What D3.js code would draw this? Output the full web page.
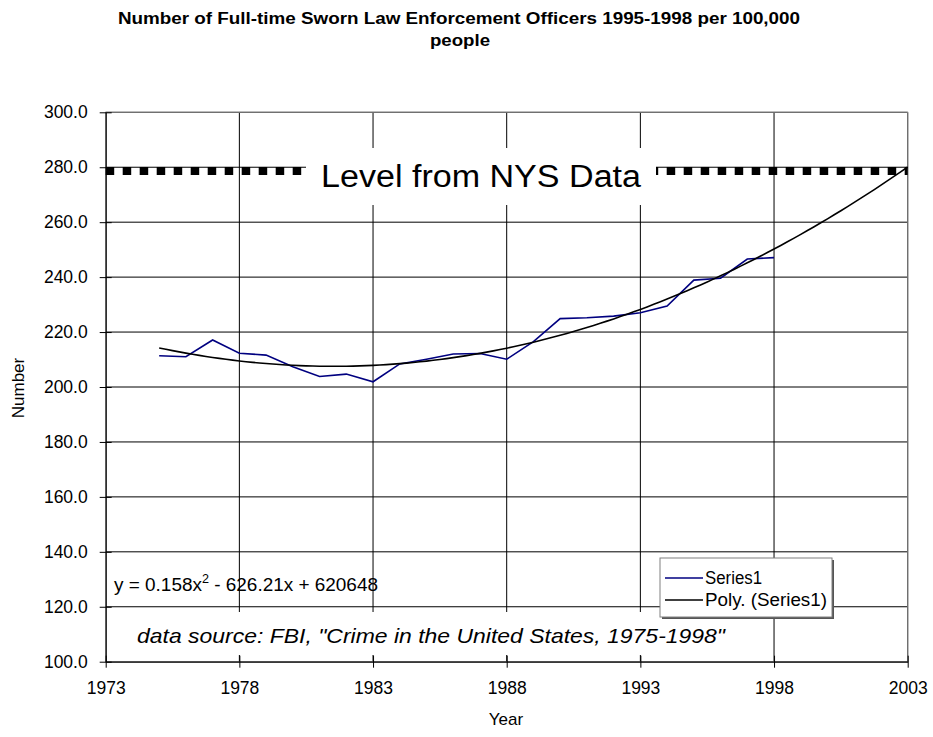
<!DOCTYPE html>
<html>
<head>
<meta charset="utf-8">
<script src="https://cdn.jsdelivr.net/npm/d3@7"></script>
<style>
  body { margin: 0; background: #fff; }
  svg { display: block; font-family: "Liberation Sans", Arial, sans-serif; }
</style>
</head>
<body>
<svg id="chart" width="933" height="737"></svg>
<script>
// values
const years = [1975, 1976, 1977, 1978, 1979, 1980, 1981, 1982, 1983, 1984, 1985, 1986,
  1987, 1988, 1989, 1990, 1991, 1992, 1993, 1994, 1995, 1996, 1997, 1998];
const officers = [211.4, 211.0, 217.1, 212.3, 211.6, 207.4, 203.8, 204.7, 201.9, 208.4, 210.1, 212.0,
  212.2, 210.1, 216.5, 224.9, 225.2, 225.8, 227.0, 229.5, 238.9, 239.6, 246.6, 247.1];
const xTicks = [1973, 1978, 1983, 1988, 1993, 1998, 2003];
const yTicks = [100, 120, 140, 160, 180, 200, 220, 240, 260, 280, 300];
const nysLevel = [278.6];
const trendEnd = 2003;

const svg = d3.select('#chart');
const m = { left: 105.7, right: 907.7, top: 112.3, bottom: 661.7 };

const x = d3.scaleLinear().domain([1973, 2003]).range([m.left, m.right]);
const y = d3.scaleLinear().domain([100, 300]).range([m.bottom, m.top]);

// quadratic least-squares trendline, same as the spreadsheet's "Poly." fit
function polyFit(xs, ys) {
  const x0 = 1986;
  let s = [0, 0, 0, 0, 0], t = [0, 0, 0];
  xs.forEach((xv, i) => {
    const u = xv - x0;
    for (let k = 0; k < 5; k++) s[k] += Math.pow(u, k);
    for (let k = 0; k < 3; k++) t[k] += ys[i] * Math.pow(u, k);
  });
  const A = [[s[0], s[1], s[2], t[0]], [s[1], s[2], s[3], t[1]], [s[2], s[3], s[4], t[2]]];
  for (let i = 0; i < 3; i++) {
    for (let j = i + 1; j < 3; j++) {
      const f = A[j][i] / A[i][i];
      for (let k = i; k < 4; k++) A[j][k] -= f * A[i][k];
    }
  }
  const c = [0, 0, 0];
  for (let i = 2; i >= 0; i--) {
    let v = A[i][3];
    for (let k = i + 1; k < 3; k++) v -= A[i][k] * c[k];
    c[i] = v / A[i][i];
  }
  return xv => c[0] + c[1] * (xv - x0) + c[2] * (xv - x0) * (xv - x0);
}
const fit = polyFit(years, officers);
const trend = d3.range(years[0], trendEnd + 0.001, 0.25).map(t => [t, fit(t)]);

// gridlines
svg.append('g').selectAll('line.h')
  .data(yTicks.slice(1))
  .join('line')
  .attr('x1', m.left).attr('x2', m.right)
  .attr('y1', d => y(d)).attr('y2', d => y(d))
  .attr('stroke', '#000').attr('stroke-width', 1);
svg.append('g').selectAll('line.v')
  .data(xTicks.slice(1))
  .join('line')
  .attr('x1', d => x(d)).attr('x2', d => x(d))
  .attr('y1', m.top).attr('y2', m.bottom)
  .attr('stroke', '#000').attr('stroke-width', 1);
// plot area border
svg.append('rect')
  .attr('x', m.left).attr('y', m.top)
  .attr('width', m.right - m.left).attr('height', m.bottom - m.top)
  .attr('fill', 'none').attr('stroke', '#808080').attr('stroke-width', 1);

// NYS level line
svg.selectAll('line.nys')
  .data(nysLevel)
  .join('line')
  .attr('x1', m.left).attr('x2', m.right)
  .attr('y1', d => y(d)).attr('y2', d => y(d))
  .attr('stroke', '#000').attr('stroke-width', 8)
  .attr('stroke-dasharray', '8.5,8.5');

// white label boxes
svg.append('rect').attr('x', 306).attr('y', 148).attr('width', 350).attr('height', 57).attr('fill', '#fff');
svg.append('text')
  .attr('x', 481).attr('y', 187)
  .attr('text-anchor', 'middle')
  .attr('font-size', 31)
  .attr('textLength', 320).attr('lengthAdjust', 'spacingAndGlyphs')
  .text('Level from NYS Data');

svg.append('rect').attr('x', 118).attr('y', 612).attr('width', 622).attr('height', 43).attr('fill', '#fff');
svg.append('text')
  .attr('x', 137).attr('y', 643)
  .attr('font-size', 21).attr('font-style', 'italic')
  .attr('textLength', 588).attr('lengthAdjust', 'spacingAndGlyphs')
  .text('data source: FBI, "Crime in the United States, 1975-1998"');

// series
const line = d3.line().x(d => x(d[0])).y(d => y(d[1]));
svg.append('path')
  .datum(years.map((yr, i) => [yr, officers[i]]))
  .attr('d', line)
  .attr('fill', 'none').attr('stroke', '#000080').attr('stroke-width', 1.6);
svg.append('path')
  .datum(trend)
  .attr('d', line)
  .attr('fill', 'none').attr('stroke', '#000').attr('stroke-width', 1.6);

// axes
const yAxis = d3.axisLeft(y).tickValues(yTicks).tickFormat(d3.format('.1f')).tickSizeInner(6).tickSizeOuter(0).tickPadding(12);
const gy = svg.append('g').attr('transform', `translate(${m.left},0)`).call(yAxis);
const xAxis = d3.axisBottom(x).tickValues(xTicks).tickFormat(d3.format('d')).tickSizeInner(6).tickSizeOuter(0).tickPadding(14);
const gx = svg.append('g').attr('transform', `translate(0,${m.bottom})`).call(xAxis);
[gx, gy].forEach(g => {
  g.select('.domain').attr('stroke', '#000').attr('stroke-width', 1.2);
  g.selectAll('.tick line').attr('stroke', '#000');
  g.selectAll('.tick text').attr('font-size', 17.5).attr('fill', '#000')
    .attr('font-family', '"Liberation Sans", Arial, sans-serif');
});
// ticks cross the axis lines
gy.selectAll('.tick line').attr('x1', 6).attr('x2', -6);
gx.selectAll('.tick line').attr('y1', -6).attr('y2', 6);

// equation
const eq = svg.append('text').attr('x', 114).attr('y', 591).attr('font-size', 18)
  .attr('textLength', 264).attr('lengthAdjust', 'spacingAndGlyphs');
eq.append('tspan').text('y = 0.158x');
eq.append('tspan').attr('font-size', 12).attr('dy', -8).text('2');
eq.append('tspan').attr('dy', 8).text(' - 626.21x + 620648');

// legend
const lg = svg.append('g').attr('transform', 'translate(660,558)');
lg.append('rect').attr('x', 2).attr('y', 2).attr('width', 172).attr('height', 59).attr('fill', '#555');
lg.append('rect').attr('width', 172).attr('height', 59).attr('fill', '#fff').attr('stroke', '#808080');
const items = [['Series1', '#000080', 57], ['Poly. (Series1)', '#000', 122]];
lg.selectAll('g.item')
  .data(items)
  .join('g')
  .attr('transform', (d, i) => `translate(0,${20 + i * 22})`)
  .each(function (d) {
    const g = d3.select(this);
    g.append('line').attr('x1', 5).attr('x2', 43).attr('stroke', d[1]).attr('stroke-width', 1.6);
    g.append('text').attr('x', 45).attr('dy', '0.35em').attr('font-size', 17.5)
      .attr('textLength', d[2]).attr('lengthAdjust', 'spacingAndGlyphs').text(d[0]);
  });

// titles
svg.append('text')
  .attr('x', 459).attr('y', 24)
  .attr('text-anchor', 'middle').attr('font-weight', 'bold').attr('font-size', 16)
  .attr('textLength', 682).attr('lengthAdjust', 'spacingAndGlyphs')
  .text('Number of Full-time Sworn Law Enforcement Officers 1995-1998 per 100,000');
svg.append('text')
  .attr('x', 460).attr('y', 46)
  .attr('text-anchor', 'middle').attr('font-weight', 'bold').attr('font-size', 16)
  .attr('textLength', 60).attr('lengthAdjust', 'spacingAndGlyphs')
  .text('people');
svg.append('text')
  .attr('x', 506).attr('y', 725)
  .attr('text-anchor', 'middle').attr('font-size', 17)
  .text('Year');
svg.append('text')
  .attr('transform', 'translate(24,388) rotate(-90)')
  .attr('text-anchor', 'middle').attr('font-size', 17)
  .text('Number');
</script>
</body>
</html>
